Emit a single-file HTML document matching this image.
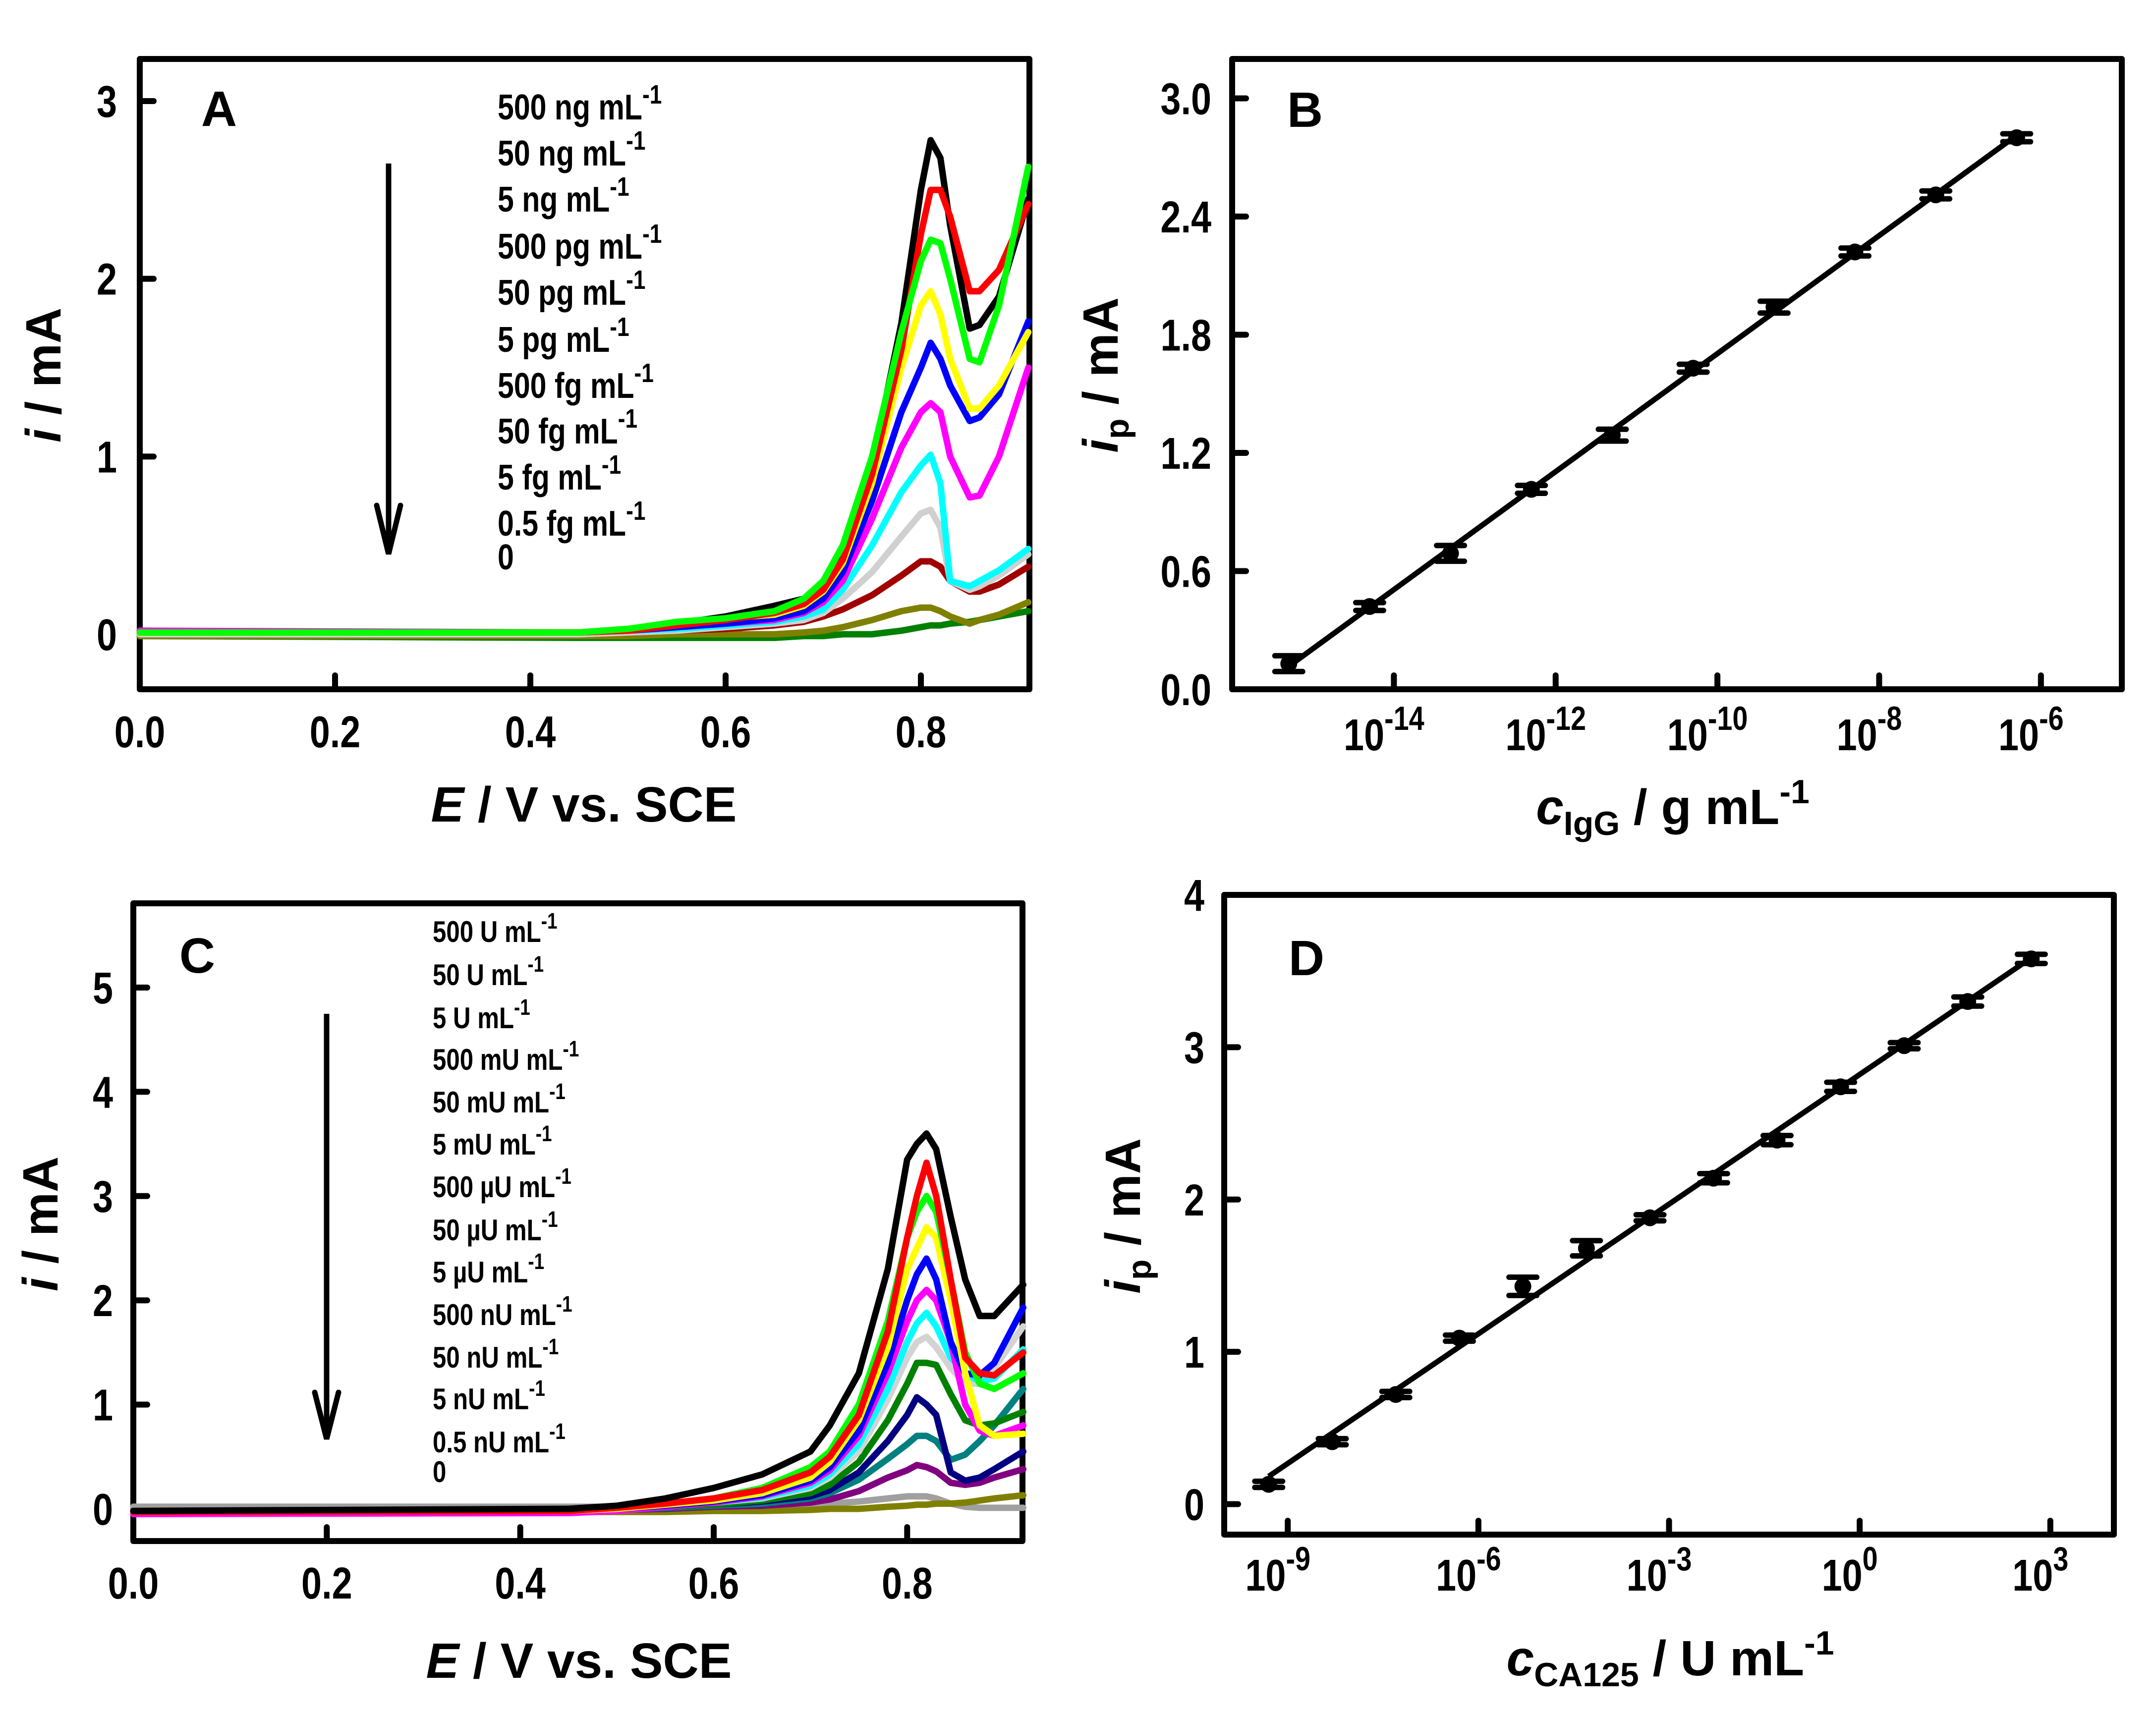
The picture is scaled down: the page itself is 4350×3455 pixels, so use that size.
<!DOCTYPE html>
<html><head><meta charset="utf-8"><style>
html,body{margin:0;padding:0;background:#fff;}
svg{display:block;font-family:"Liberation Sans",Arial,sans-serif;font-weight:bold;}
</style></head><body>
<svg id="fig" width="4350" height="3455" viewBox="0 0 4350 3455" xmlns="http://www.w3.org/2000/svg">
<rect width="4350" height="3455" fill="#fff"/>
</svg>
<script>
// ---------- Panel A data ----------
const gridA = [0,0.45,0.5,0.55,0.6,0.65,0.68,0.7,0.72,0.75,0.78,0.8,0.81,0.82,0.83,0.85,0.86,0.88,0.91];
const aBlack   = [0.01,0.01,0.03,0.06,0.10,0.16,0.20,0.27,0.45,0.95,1.75,2.5,2.78,2.68,2.3,1.72,1.74,1.9,2.45];
const aRed     = [0.01,0.01,0.02,0.05,0.08,0.12,0.17,0.25,0.42,0.9,1.6,2.25,2.5,2.5,2.35,1.93,1.93,2.05,2.42];
const aGreen   = [0.01,0.01,0.03,0.07,0.09,0.13,0.2,0.3,0.5,1.0,1.7,2.1,2.22,2.2,2.0,1.55,1.53,1.85,2.63];
const aYellow  = [0.01,0.01,0.02,0.05,0.09,0.11,0.16,0.24,0.4,0.85,1.5,1.85,1.93,1.8,1.55,1.27,1.27,1.4,1.7];
const aBlue    = [0.01,0.01,0.02,0.04,0.06,0.09,0.13,0.2,0.35,0.75,1.25,1.5,1.64,1.55,1.4,1.2,1.22,1.35,1.76];
const aMagenta = [0.02,0.01,0.02,0.04,0.06,0.08,0.12,0.18,0.3,0.65,1.05,1.25,1.3,1.25,1.0,0.77,0.78,1.0,1.5];
const aCyan    = [0.01,0.01,0.02,0.03,0.05,0.07,0.1,0.14,0.25,0.5,0.8,0.95,1.01,0.85,0.3,0.27,0.3,0.36,0.48];
const aGray    = [0.0,0.0,0.01,0.02,0.04,0.06,0.08,0.12,0.2,0.35,0.55,0.68,0.7,0.6,0.3,0.25,0.27,0.33,0.45];
const aDarkred = [0.0,0.0,0.01,0.02,0.03,0.05,0.07,0.1,0.14,0.22,0.33,0.41,0.41,0.38,0.3,0.24,0.24,0.28,0.38];
const aOlive   = [-0.01,-0.01,-0.01,0.0,0.0,0.0,0.01,0.02,0.04,0.08,0.13,0.15,0.15,0.13,0.1,0.06,0.08,0.11,0.18];
const aDkgreen = [-0.01,-0.02,-0.02,-0.02,-0.02,-0.02,-0.01,-0.01,0.0,0.0,0.02,0.04,0.05,0.05,0.06,0.07,0.08,0.1,0.13];
const legendA = ["500 ng mL","50 ng mL","5 ng mL","500 pg mL","50 pg mL","5 pg mL","500 fg mL","50 fg mL","5 fg mL","0.5 fg mL","0"];

// ---------- Panel C data ----------
const gridC = [0,0.45,0.5,0.55,0.6,0.65,0.7,0.72,0.75,0.78,0.8,0.81,0.82,0.83,0.845,0.86,0.875,0.89,0.92];
const cBlack   = [-0.02,0.0,0.03,0.1,0.2,0.33,0.55,0.8,1.3,2.3,3.35,3.5,3.6,3.45,2.8,2.2,1.85,1.85,2.15];
const cRed     = [-0.03,-0.02,0.01,0.05,0.1,0.18,0.35,0.5,0.9,1.7,2.6,3.0,3.32,3.0,2.2,1.45,1.3,1.28,1.5];
const cGreen   = [-0.03,-0.02,0.01,0.05,0.1,0.2,0.4,0.55,1.0,1.8,2.6,2.85,3.0,2.85,2.2,1.5,1.2,1.15,1.3];
const cYellow  = [-0.03,-0.02,0.0,0.04,0.08,0.15,0.3,0.45,0.85,1.55,2.3,2.5,2.7,2.6,2.0,1.3,0.8,0.7,0.72];
const cBlue    = [-0.03,-0.02,0.0,0.03,0.07,0.13,0.27,0.4,0.75,1.4,2.0,2.25,2.4,2.2,1.6,1.3,1.28,1.4,1.93];
const cMagenta = [-0.05,-0.04,-0.02,0.02,0.06,0.12,0.25,0.37,0.7,1.3,1.8,2.0,2.1,2.0,1.6,1.0,0.75,0.7,0.8];
const cCyan    = [-0.03,-0.02,0.0,0.03,0.06,0.11,0.22,0.33,0.62,1.15,1.6,1.78,1.88,1.75,1.45,1.3,1.22,1.25,1.53];
const cLtgray  = [-0.02,-0.01,0.0,0.03,0.06,0.1,0.2,0.3,0.55,1.05,1.45,1.6,1.65,1.55,1.35,1.2,1.2,1.35,1.75];
const cDkgreen = [-0.03,-0.02,0.0,0.02,0.04,0.08,0.15,0.23,0.45,0.85,1.2,1.4,1.4,1.38,1.1,0.85,0.8,0.82,0.93];
const cNavy    = [-0.03,-0.02,0.0,0.02,0.04,0.07,0.12,0.18,0.35,0.65,0.9,1.07,1.0,0.9,0.35,0.27,0.3,0.38,0.55];
const cTeal    = [-0.03,-0.02,-0.01,0.01,0.03,0.05,0.1,0.15,0.28,0.48,0.62,0.7,0.7,0.65,0.47,0.52,0.65,0.8,1.15];
const cPurple  = [-0.03,-0.02,-0.01,0.0,0.02,0.03,0.06,0.09,0.17,0.3,0.37,0.42,0.4,0.36,0.25,0.23,0.25,0.3,0.38];
const cOlive   = [-0.03,-0.03,-0.03,-0.03,-0.02,-0.02,-0.01,0.0,0.0,0.02,0.03,0.04,0.04,0.05,0.05,0.06,0.08,0.1,0.13];
const cGray    = [0.02,0.02,0.02,0.02,0.02,0.03,0.04,0.05,0.07,0.1,0.12,0.12,0.12,0.1,0.05,0.02,0.01,0.01,0.01];
const legendC = ["500 U mL","50 U mL","5 U mL","500 mU mL","50 mU mL","5 mU mL","500 \u00b5U mL","50 \u00b5U mL","5 \u00b5U mL","500 nU mL","50 nU mL","5 nU mL","0.5 nU mL","0"];

// ---------- Panel B data ----------
const bLogC = [-15.3,-14.3,-13.3,-12.3,-11.3,-10.3,-9.3,-8.3,-7.3,-6.3];
const bIp   = [0.13,0.42,0.69,1.015,1.29,1.63,1.94,2.22,2.51,2.80];
const bErr  = [0.04,0.02,0.04,0.02,0.03,0.02,0.03,0.02,0.02,0.02];
const bYTicks = ["0.0","0.6","1.2","1.8","2.4","3.0"];
const bXTicks = [-14,-12,-10,-8,-6];

// ---------- Panel D data ----------
const dLogC = [-9.3,-8.3,-7.3,-6.3,-5.3,-4.3,-3.3,-2.3,-1.3,-0.3,0.7,1.7,2.7];
const dIp   = [0.13,0.41,0.72,1.09,1.43,1.68,1.88,2.14,2.39,2.74,3.01,3.30,3.58];
const dErr  = [0.02,0.02,0.02,0.02,0.06,0.05,0.02,0.03,0.03,0.03,0.02,0.03,0.03];
const dYTicks = ["0","1","2","3","4"];
const dXTicks = [-9,-6,-3,0,3];

const NS="http://www.w3.org/2000/svg";
const svg=document.getElementById('fig');
const NARROW=0.82;
function el(tag,attrs,parent){const e=document.createElementNS(NS,tag);for(const k in attrs)e.setAttribute(k,attrs[k]);(parent||svg).appendChild(e);return e;}
function lin(d0,d1,p0,p1){return v=>p0+(v-d0)/(d1-d0)*(p1-p0);}
function frame(g,x0,y0,x1,y1){const r=el('rect',{x:x0,y:y0,width:x1-x0,height:y1-y0,fill:'none',stroke:'#000','stroke-width':12,'stroke-linejoin':'round'},g);

}
function tickY(g,x0,y,len){const t=el('line',{x1:x0,y1:y,x2:x0+len,y2:y,stroke:'#000','stroke-width':12,'stroke-linecap':'round'},g);

}
function tickX(g,x,y1,len){const t=el('line',{x1:x,y1:y1,x2:x,y2:y1-len,stroke:'#000','stroke-width':12,'stroke-linecap':'round'},g);

}
function txt(g,x,y,s,size,anchor,sc){const f=sc||NARROW;const t=el('text',{x:0,y:0,transform:`translate(${x},${y}) scale(${f},1)`,'font-size':size,'text-anchor':anchor||'middle',fill:'#000'},g);t.textContent=s;return t;}
function supText(g,x,y,base,sup,size,anchor){const t=el('text',{x:0,y:0,transform:`translate(${x},${y}) scale(${NARROW},1)`,'font-size':size,'text-anchor':anchor||'start',fill:'#000'},g);
const a=el('tspan',{},t);a.textContent=base;const b=el('tspan',{'font-size':Math.round(size*0.75),dy:-Math.round(size*0.45)},t);b.textContent=sup;return t;}

// ===== Panel A =====
(function(){
const g=el('g',{});
const X0=282,X1=2077,Y0=119,Y1=1391;
const sx=lin(0,0.8,282,1858), sy=lin(0,3,1280,204);
frame(g,X0,Y0,X1,Y1);
[0,1,2,3].forEach(v=>{tickY(g,X0,sy(v),28);const t=txt(g,236,sy(v)+32,String(v),90,'end');

});
[0,0.2,0.4,0.6,0.8].forEach(v=>{if(v>0)tickX(g,sx(v),Y1,28);const t=txt(g,sx(v),1508,v.toFixed(1),90);

});
const series=[[aDkgreen,'#008000'],[aOlive,'#808000'],[aDarkred,'#a00000'],[aGray,'#d0d0d0'],[aCyan,'#00ffff'],[aMagenta,'#ff00ff'],[aBlue,'#0000ff'],[aYellow,'#ffff00'],[aBlack,'#000000'],[aRed,'#ff0000'],[aGreen,'#00ff00']];
series.forEach(([vals,col])=>{const pts=gridA.map((e,i)=>sx(e).toFixed(1)+','+sy(vals[i]).toFixed(1)).join(' ');
const p=el('polyline',{points:pts,fill:'none',stroke:col,'stroke-width':13,'stroke-linejoin':'round','stroke-linecap':'round'},g);

});
const lt=txt(g,442,254,'A',100,'middle',1);
legendA.forEach((s,i)=>{const y=[241,334,427,522,615,710,803,895,988,1081,1149][i];
const t=s==='0'?txt(g,1004,y,s,72,'start'):supText(g,1004,y,s,'-1',72,'start');

});
const ar=el('g',{},g);
el('line',{x1:784,y1:330,x2:784,y2:1110,stroke:'#000','stroke-width':11},ar);
el('polyline',{points:'760,1020 784,1118 808,1020',fill:'none',stroke:'#000','stroke-width':11,'stroke-linecap':'round'},ar);
const xt=el('text',{x:1178,y:1658,'font-size':100,'text-anchor':'middle'},g);xt.innerHTML='<tspan font-style="italic">E</tspan> / V vs. SCE';

const yt=el('text',{x:0,y:0,'font-size':100,'text-anchor':'middle',transform:'translate(122,757) rotate(-90)'},g);yt.innerHTML='<tspan font-style="italic">i</tspan> / mA';

})();

// ===== Panel C =====
(function(){
const g=el('g',{});
const X0=269,X1=2063,Y0=1823,Y1=3110;
const sx=lin(0,0.6,269,1440), sy=lin(0,5,3045,1993);
frame(g,X0,Y0,X1,Y1);
[0,1,2,3,4,5].forEach(v=>{tickY(g,X0,sy(v),28);const t=txt(g,228,sy(v)+32,String(v),90,'end');

});
[0,0.2,0.4,0.6,0.8].forEach(v=>{if(v>0)tickX(g,sx(v),Y1,28);const t=txt(g,sx(v),3226,v.toFixed(1),90);

});
const series=[[cGray,'#a0a0a0'],[cOlive,'#808000'],[cPurple,'#800080'],[cTeal,'#008080'],[cNavy,'#000080'],[cDkgreen,'#008000'],[cLtgray,'#d3d3d3'],[cCyan,'#00ffff'],[cMagenta,'#ff00ff'],[cBlue,'#0000ff'],[cYellow,'#ffff00'],[cGreen,'#00ff00'],[cRed,'#ff0000'],[cBlack,'#000000']];
series.forEach(([vals,col])=>{const pts=gridC.map((e,i)=>sx(e).toFixed(1)+','+sy(vals[i]).toFixed(1)).join(' ');
const p=el('polyline',{points:pts,fill:'none',stroke:col,'stroke-width':13,'stroke-linejoin':'round','stroke-linecap':'round'},g);

});
const lt=txt(g,398,1963,'C',100,'middle',1);
const ys=[1901,1988,2075,2159,2245,2330,2416,2503,2588,2674,2760,2844,2931,2991];
legendC.forEach((s,i)=>{const t=s==='0'?txt(g,873,ys[i],s,60,'start'):supText(g,873,ys[i],s,'-1',60,'start');

});
const ar=el('g',{},g);
el('line',{x1:659,y1:2046,x2:659,y2:2896,stroke:'#000','stroke-width':11},ar);
el('polyline',{points:'635,2810 659,2904 683,2810',fill:'none',stroke:'#000','stroke-width':11,'stroke-linecap':'round'},ar);
const xt=el('text',{x:1168,y:3386,'font-size':100,'text-anchor':'middle'},g);xt.innerHTML='<tspan font-style="italic">E</tspan> / V vs. SCE';

const yt=el('text',{x:0,y:0,'font-size':100,'text-anchor':'middle',transform:'translate(116,2470) rotate(-90)'},g);yt.innerHTML='<tspan font-style="italic">i</tspan> / mA';

})();

// ===== calibration panels =====
function calPanel(name,X0,Y0,X1,Y1,xmin,xmax,ymin,ymax,yTicks,xTicks,logC,ip,err,yLabelRight,xLabY,letter,letterX,letterY){
const g=el('g',{});
const sx=lin(xmin,xmax,X0,X1), sy=lin(ymin,ymax,Y1,Y0);
frame(g,X0,Y0,X1,Y1);
yTicks.forEach(s=>{const v=parseFloat(s);if(sy(v)<Y1-8)tickY(g,X0,sy(v),28);const t=txt(g,yLabelRight,sy(v)+32,s,90,'end');

});
xTicks.forEach(k=>{tickX(g,sx(k),Y1,28);const t=supText(g,sx(k)-20,xLabY,'10',String(k),90,'middle');

});
const n=logC.length;let mx=0,my=0;for(let i=0;i<n;i++){mx+=logC[i];my+=ip[i];}mx/=n;my/=n;
let sxy=0,sxx=0;for(let i=0;i<n;i++){sxy+=(logC[i]-mx)*(ip[i]-my);sxx+=(logC[i]-mx)**2;}
const b=sxy/sxx,a=my-b*mx;
const fl=el('line',{x1:sx(logC[0]),y1:sy(a+b*logC[0]),x2:sx(logC[n-1]),y2:sy(a+b*logC[n-1]),stroke:'#000','stroke-width':11},g);


for(let i=0;i<n;i++){const x=sx(logC[i]),y=sy(ip[i]),yt=sy(ip[i]+err[i]),yb=sy(ip[i]-err[i]);
const pg=el('g',{},g);


el('line',{x1:x,y1:yt,x2:x,y2:yb,stroke:'#000','stroke-width':9},pg);
el('line',{x1:x-28,y1:yt,x2:x+28,y2:yt,stroke:'#000','stroke-width':11,'stroke-linecap':'round'},pg);
el('line',{x1:x-28,y1:yb,x2:x+28,y2:yb,stroke:'#000','stroke-width':11,'stroke-linecap':'round'},pg);
el('circle',{cx:x,cy:y,r:17,fill:'#000'},pg);}
const lt=txt(g,letterX,letterY,letter,100,'middle',1);
return g;}

(function(){
const g=calPanel('panel-b',2486,119,4281,1391,-16,-5,0,3.2,bYTicks,bXTicks,bLogC,bIp,bErr,2444,1514,'B',2633,256);
const xt=el('text',{x:3375,y:1663,'font-size':100,'text-anchor':'middle'},g);
xt.innerHTML='<tspan font-style="italic">c</tspan><tspan font-size="68" dy="22">IgG</tspan><tspan dy="-22"> / g mL</tspan><tspan font-size="68" dy="-42">-1</tspan>';

const yt=el('text',{x:0,y:0,'font-size':100,'text-anchor':'middle',transform:'translate(2255,757) rotate(-90)'},g);
yt.innerHTML='<tspan font-style="italic">i</tspan><tspan font-size="68" dy="22">p</tspan><tspan dy="-22"> / mA</tspan>';

})();

(function(){
const g=calPanel('panel-d',2470,1806,4265,3097,-10,4,-0.2,4.0,dYTicks,dXTicks,dLogC,dIp,dErr,2430,3210,'D',2636,1968);
const xt=el('text',{x:3370,y:3381,'font-size':100,'text-anchor':'middle'},g);
xt.innerHTML='<tspan font-style="italic">c</tspan><tspan font-size="68" dy="22">CA125</tspan><tspan dy="-22"> / U mL</tspan><tspan font-size="68" dy="-42">-1</tspan>';

const yt=el('text',{x:0,y:0,'font-size':100,'text-anchor':'middle',transform:'translate(2300,2454) rotate(-90)'},g);
yt.innerHTML='<tspan font-style="italic">i</tspan><tspan font-size="68" dy="22">p</tspan><tspan dy="-22"> / mA</tspan>';

})();
</script>
</body></html>
